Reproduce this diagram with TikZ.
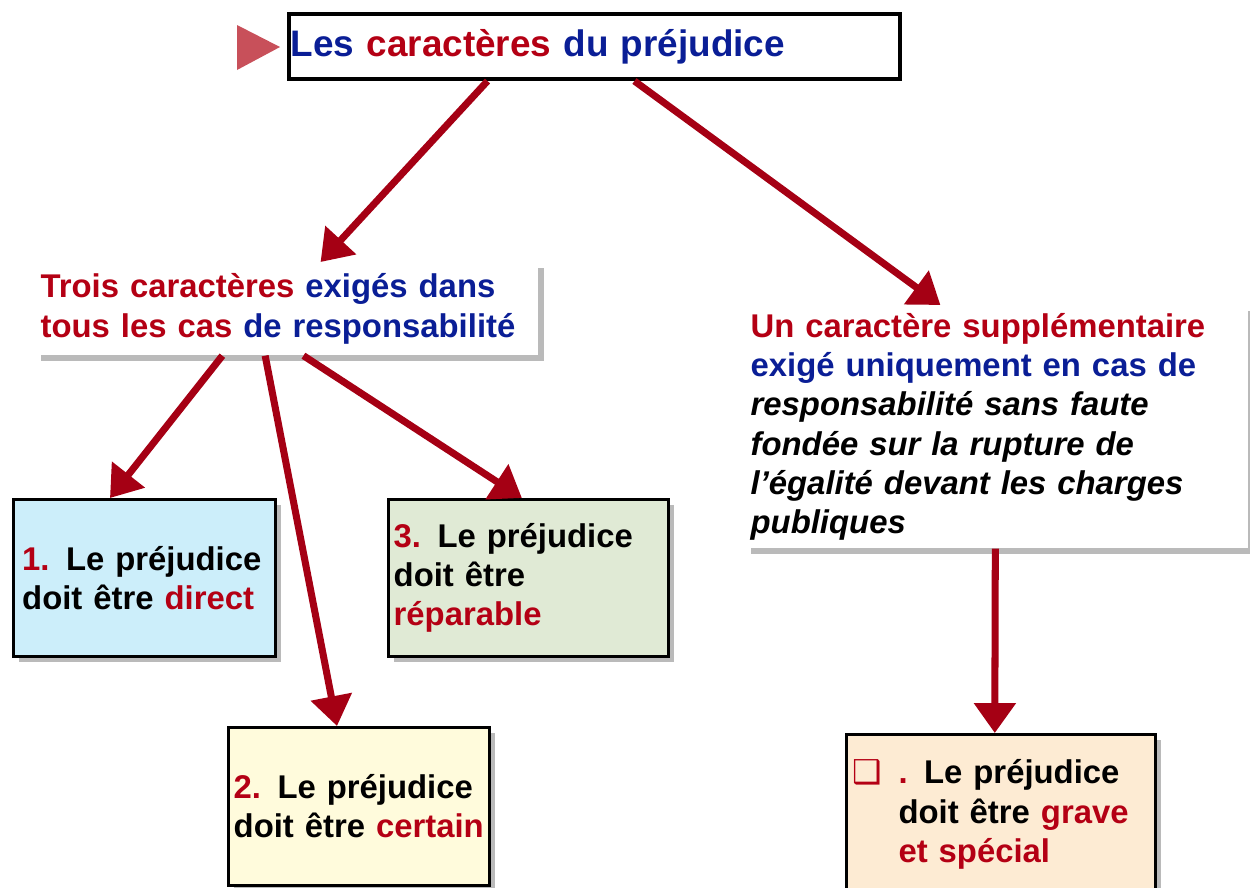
\documentclass[tikz,border=0pt]{standalone}
\usepackage{fontspec}
\setmainfont{Liberation Sans}
\newfontfamily\symbfont{DejaVu Sans}
\usetikzlibrary{positioning,calc}
\usetikzlibrary{arrows.meta,shadows}
\definecolor{TexteBleu}{RGB}{10,30,150}
\definecolor{TexteRouge}{RGB}{180,0,20}
\definecolor{FlecheRouge}{RGB}{165,0,20}
\definecolor{MarqueRose}{RGB}{200,80,90}
\definecolor{FondBleu}{RGB}{204,238,250}
\definecolor{FondVert}{RGB}{224,234,213}
\definecolor{FondJaune}{RGB}{255,251,220}
\definecolor{FondPeche}{RGB}{253,235,211}
\newcommand{\rouge}[1]{\textcolor{TexteRouge}{#1}}
\newcommand{\bleu}[1]{\textcolor{TexteBleu}{#1}}
\tikzset{
  titre/.style={draw=black,line width=2.3pt,fill=white,anchor=north west,inner xsep=1pt,inner ysep=0pt,
    text width=12.15cm,minimum height=1.3cm,align=left,font=\bfseries\fontsize{21}{25}\selectfont},
  bloc/.style={fill=white,anchor=north west,inner xsep=3pt,inner ysep=0pt,align=left,
    font=\bfseries\fontsize{18.7}{22.4}\selectfont,
    drop shadow={shadow xshift=3pt,shadow yshift=-3pt,fill=black!45,opacity=.6}},
  carte/.style={bloc,draw=black,line width=1.6pt},
  fleche/.style={draw=FlecheRouge,line width=4pt,-{Triangle[length=17pt,width=23pt]}},
}

\begin{document}
\begin{tikzpicture}[x=0.02cm,y=-0.02cm]
\useasboundingbox (0,0) rectangle (1250,887);
% titre
\fill[MarqueRose] (237,25) -- (280,47) -- (237,70) -- cycle;
\node[titre] (titre) at (287,12) {\bleu{Les} \rouge{caractères} \bleu{du préjudice}};
% deux branches
\node[bloc,text width=9.85cm,minimum height=1.86cm] (trois) at (35,262)
  {\rouge{Trois caractères} \bleu{exigés dans}\\ \rouge{tous les cas} \bleu{de responsabilité}};
\node[bloc,text width=9.85cm,minimum height=4.86cm] (supp) at (745,305)
  {\rouge{Un caractère supplémentaire}\\ \bleu{exigé uniquement en cas de}\\
   \itshape responsabilité sans faute\\ fondée sur la rupture de\\
   l’égalité devant les charges\\ publiques};
% les caracteres
\node[carte,fill=FondBleu,inner xsep=5pt,text width=4.89cm,minimum height=3.14cm] (direct) at (12,498)
  {\rouge{1.} Le préjudice\\ doit être \rouge{direct}};
\node[carte,fill=FondVert,text width=5.39cm,minimum height=3.14cm] (reparable) at (387,498)
  {\rouge{3.} Le préjudice\\ doit être\\ \rouge{réparable}};
\node[carte,fill=FondJaune,text width=5.01cm,minimum height=3.16cm] (certain) at (227,726)
  {\rouge{2.} Le préjudice\\ doit être \rouge{certain}};
\node[carte,fill=FondPeche,inner xsep=3.5pt,text width=5.94cm,minimum height=3.2cm] (grave) at (845,733)
  {\makebox[0.92cm][l]{\symbfont\rouge{❑}}\parbox[t]{5cm}{\rouge{.} Le préjudice\\ doit être \rouge{grave}\\ \rouge{et spécial}}};
% fleches
\draw[fleche] ($(titre.south west)!0.326!(titre.south east)$) -- ($(trois.north west)!0.567!(trois.north east)$);
\draw[fleche] ($(titre.south west)!0.565!(titre.south east)$) -- ($(supp.north west)!0.388!(supp.north east)$);
\draw[fleche] ($(trois.south west)!0.372!(trois.south east)$) -- ($(direct.north west)!0.37!(direct.north east)$);
\draw[fleche] ($(trois.south west)!0.457!(trois.south east)$) -- ($(certain.north west)!0.417!(certain.north east)$);
\draw[fleche] ($(trois.south west)!0.533!(trois.south east)$) -- ($(reparable.north west)!0.477!(reparable.north east)$);
\draw[fleche] ($(supp.south west)!0.497!(supp.south east)$) -- ($(grave.north west)!0.48!(grave.north east)$);
\end{tikzpicture}
\end{document}
